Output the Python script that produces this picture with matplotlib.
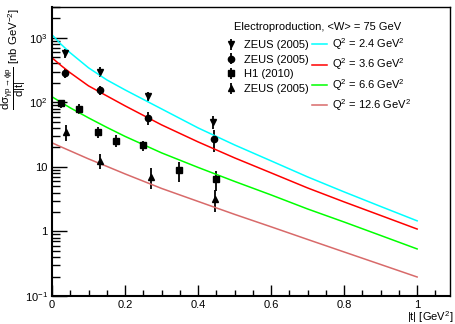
import matplotlib
matplotlib.use("Agg")
import matplotlib.pyplot as plt
import numpy as np
from matplotlib.ticker import FixedLocator, FuncFormatter, LogLocator, NullFormatter

plt.rcParams['font.family'] = ['Liberation Sans', 'DejaVu Sans']
plt.rcParams['mathtext.fontset'] = 'custom'
plt.rcParams['mathtext.rm'] = 'Liberation Sans'
plt.rcParams['mathtext.it'] = 'Liberation Sans'
plt.rcParams['mathtext.default'] = 'regular'

# data points: |t| [GeV^2], dsigma/dt [nb/GeV^2], error
zeus24_t = [0.036, 0.131, 0.264, 0.442]
zeus24_y = [580, 300, 126, 50]
zeus24_e = [85, 50, 20, 11]

zeus36_t = [0.036, 0.131, 0.263, 0.444]
zeus36_y = [284, 156, 58, 27]
zeus36_e = [45, 25, 14, 10]

h1_t = [0.024, 0.075, 0.125, 0.174, 0.248, 0.349, 0.450]
h1_y = [96, 80, 35, 25.5, 21.5, 8.8, 6.5]
h1_e = [14, 14, 7, 5.5, 4, 3, 2.2]

zeus126_t = [0.037, 0.131, 0.271, 0.447]
zeus126_y = [35, 12.4, 7.1, 3.2]
zeus126_e = [9.5, 3.2, 2.5, 1.2]

# model curves
curve_t = [0, 0.025, 0.05, 0.1, 0.15, 0.2, 0.3, 0.4, 0.5, 0.6, 0.7, 0.8, 0.9, 1.0]
curve_q24 = [1113, 792, 585, 343, 223, 156, 79.2, 40.2, 21.9, 12.4, 7.0, 4.10, 2.44, 1.46]
curve_q36 = [490, 371, 287, 180, 126, 88.3, 44.8, 24.4, 13.8, 8.08, 4.72, 2.87, 1.77, 1.09]
curve_q66 = [122, 100, 82.2, 57.5, 41.0, 29.7, 16.5, 9.82, 5.96, 3.68, 2.23, 1.40, 0.867, 0.536]
curve_q126 = [23.6, 20.4, 17.7, 13.3, 10.2, 7.79, 4.64, 2.92, 1.84, 1.18, 0.752, 0.481, 0.308, 0.197]

fig = plt.figure(figsize=(4.55, 3.24), dpi=100)
ax = fig.add_axes([52/455, 1-296/324, (450-52)/455, (296-7)/324])

eb_kw = dict(color='black', elinewidth=1.3, capsize=0, linestyle='none')
h1 = ax.errorbar(zeus24_t, zeus24_y, yerr=zeus24_e, marker='v', ms=4, **eb_kw)
h2 = ax.errorbar(zeus36_t, zeus36_y, yerr=zeus36_e, marker='o', ms=4.5, **eb_kw)
h3 = ax.errorbar(h1_t, h1_y, yerr=h1_e, marker='s', ms=4.2, **eb_kw)
h4 = ax.errorbar(zeus126_t, zeus126_y, yerr=zeus126_e, marker='^', ms=4, **eb_kw)

l1, = ax.plot(curve_t, curve_q24, color='#00ffff', lw=1.1)
l2, = ax.plot(curve_t, curve_q36, color='#ff0000', lw=1.1)
l3, = ax.plot(curve_t, curve_q66, color='#00ff00', lw=1.1)
l4, = ax.plot(curve_t, curve_q126, color='#d86a6a', lw=1.1)

ax.set_yscale('log')
ax.set_xlim(0, 1.09)
ax.set_ylim(0.1, 3000)

ax.xaxis.set_major_locator(FixedLocator([0, 0.2, 0.4, 0.6, 0.8, 1.0]))
ax.xaxis.set_minor_locator(FixedLocator(np.arange(0, 1.09, 0.05)))
ax.xaxis.set_major_formatter(FuncFormatter(lambda v, p: '%g' % v))

ylabels = {0.1: '$10^{-1}$', 1: '1', 10: '10', 100: '$10^{2}$', 1000: '$10^{3}$'}
ax.yaxis.set_major_locator(FixedLocator([0.1, 1, 10, 100, 1000]))
ax.yaxis.set_minor_locator(LogLocator(base=10, subs=np.arange(2, 10)))
ax.yaxis.set_minor_formatter(NullFormatter())
ax.yaxis.set_major_formatter(FuncFormatter(lambda v, p: ylabels.get(round(v, 3), '')))

ax.tick_params(which='both', direction='in', top=False, right=False, labelsize=8, width=1)
ax.tick_params(axis='x', which='major', length=8, pad=3)
ax.tick_params(axis='x', which='minor', length=4)
ax.tick_params(axis='y', which='major', length=11, pad=3)
ax.tick_params(axis='y', which='minor', length=6)
for s in ['left', 'bottom']:
    ax.spines[s].set_linewidth(1.5)
for s in ['top', 'right']:
    ax.spines[s].set_linewidth(1.0)

fig.text(0.031, 0.975,
         r'$\dfrac{d\sigma_{\gamma p \rightarrow \phi p}}{d|t|}$ [nb GeV$^{-2}$]',
         rotation=90, ha='center', va='top', fontsize=8.2)
fig.text(453/455, 1-317/324, '|t| [GeV$^{2}$]', ha='right', va='center', fontsize=8)

handles = [h1, h2, h3, h4, l1, l2, l3, l4]
labels = ['ZEUS (2005)', 'ZEUS (2005)', 'H1 (2010)', 'ZEUS (2005)',
          'Q$^{2}$ = 2.4 GeV$^{2}$', 'Q$^{2}$ = 3.6 GeV$^{2}$',
          'Q$^{2}$ = 6.6 GeV$^{2}$', 'Q$^{2}$ = 12.6 GeV$^{2}$']
leg = ax.legend(handles, labels, ncol=2, loc='upper left',
                bbox_to_anchor=(224/455, 1-22/324), bbox_transform=fig.transFigure,
                frameon=False, title='Electroproduction, <W> = 75 GeV',
                title_fontsize=8, fontsize=8, handlelength=1.3, handletextpad=0.5,
                columnspacing=0.3, labelspacing=0.42, borderpad=0, borderaxespad=0)
leg._legend_box.sep = 3

fig.savefig('out.png', dpi=100)
